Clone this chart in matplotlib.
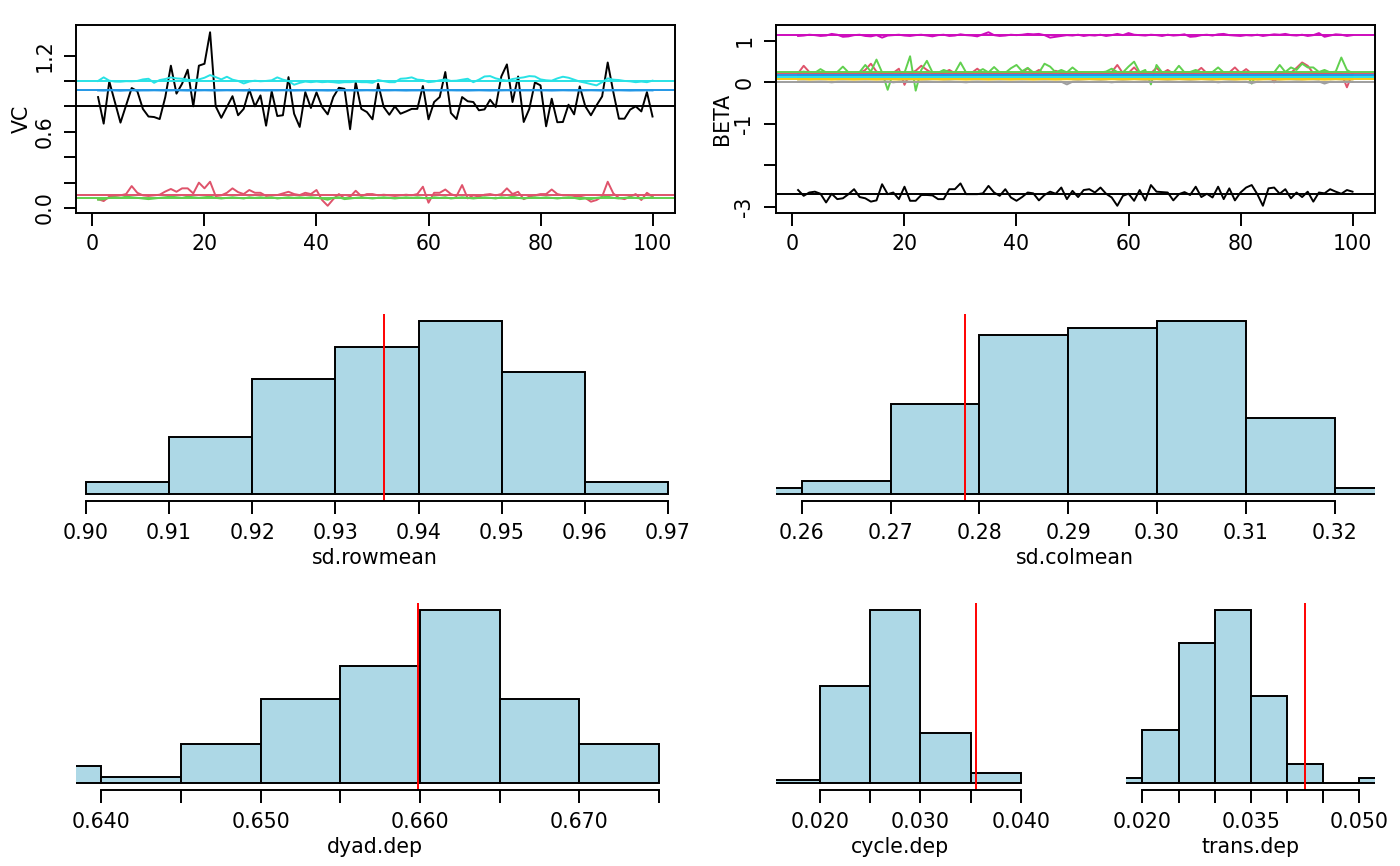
import numpy as np
import matplotlib
matplotlib.use("Agg")
import matplotlib.pyplot as plt

plt.rcParams['font.family'] = ['DejaVu Sans']
plt.rcParams['font.size'] = 14.8

# ---------------- data ----------------
iterations = list(range(1, 101))

vc_black = [0.873, 0.664, 0.996, 0.834, 0.672, 0.808, 0.944, 0.92, 0.78, 0.72,
            0.716, 0.70, 0.873, 1.12, 0.90, 0.978, 1.088, 0.80, 1.12, 1.135,
            1.383, 0.80, 0.71, 0.795, 0.88, 0.73, 0.78, 0.933, 0.80, 0.886,
            0.648, 0.918, 0.724, 0.73, 1.03, 0.742, 0.638, 0.912, 0.787, 0.91,
            0.795, 0.737, 0.873, 0.946, 0.938, 0.62, 0.99, 0.78, 0.755, 0.698,
            0.978, 0.795, 0.734, 0.80, 0.742, 0.76, 0.78, 0.78, 0.96, 0.698,
            0.834, 0.873, 1.07, 0.748, 0.70, 0.873, 0.84, 0.834, 0.769, 0.776,
            0.852, 0.795, 1.035, 1.13, 0.834, 1.035, 0.677, 0.78, 0.988, 0.965,
            0.643, 0.86, 0.675, 0.677, 0.813, 0.737, 0.957, 0.80, 0.73, 0.808,
            0.878, 1.145, 0.912, 0.703, 0.703, 0.774, 0.80, 0.76, 0.912, 0.72]

vc_red = [0.07, 0.055, 0.09, 0.095, 0.10, 0.11, 0.173, 0.12, 0.10, 0.095,
          0.10, 0.105, 0.13, 0.15, 0.128, 0.155, 0.155, 0.115, 0.20, 0.155,
          0.207, 0.094, 0.10, 0.12, 0.155, 0.125, 0.11, 0.142, 0.12, 0.12,
          0.095, 0.10, 0.102, 0.115, 0.128, 0.11, 0.102, 0.12, 0.11, 0.142,
          0.063, 0.018, 0.07, 0.11, 0.076, 0.089, 0.136, 0.094, 0.11, 0.11,
          0.10, 0.105, 0.10, 0.095, 0.10, 0.105, 0.10, 0.11, 0.168, 0.042,
          0.12, 0.12, 0.146, 0.11, 0.094, 0.181, 0.076, 0.10, 0.09, 0.105,
          0.11, 0.10, 0.11, 0.155, 0.11, 0.128, 0.07, 0.09, 0.10, 0.11,
          0.11, 0.146, 0.11, 0.10, 0.102, 0.095, 0.09, 0.08, 0.05, 0.063,
          0.09, 0.207, 0.115, 0.08, 0.07, 0.09, 0.11, 0.063, 0.12, 0.09]

vc_green = [0.065, 0.07, 0.08, 0.085, 0.08, 0.09, 0.085, 0.08, 0.075, 0.07,
            0.075, 0.08, 0.085, 0.09, 0.085, 0.08, 0.09, 0.085, 0.08, 0.085,
            0.09, 0.08, 0.075, 0.08, 0.085, 0.08, 0.075, 0.085, 0.08, 0.085,
            0.08, 0.085, 0.075, 0.08, 0.085, 0.08, 0.085, 0.08, 0.085, 0.08,
            0.075, 0.065, 0.08, 0.085, 0.07, 0.075, 0.08, 0.085, 0.08, 0.075,
            0.08, 0.085, 0.08, 0.075, 0.08, 0.085, 0.08, 0.085, 0.08, 0.075,
            0.085, 0.08, 0.085, 0.075, 0.08, 0.085, 0.08, 0.075, 0.08, 0.085,
            0.08, 0.075, 0.085, 0.08, 0.09, 0.08, 0.075, 0.08, 0.085, 0.08,
            0.085, 0.08, 0.075, 0.08, 0.085, 0.08, 0.07, 0.075, 0.07, 0.08,
            0.085, 0.09, 0.08, 0.075, 0.08, 0.085, 0.08, 0.075, 0.08, 0.085]

vc_blue = [0.925, 0.924, 0.926, 0.925, 0.923, 0.925, 0.926, 0.924, 0.925, 0.925,
           0.926, 0.925, 0.924, 0.925, 0.926, 0.925, 0.924, 0.925, 0.925, 0.926,
           0.925, 0.924, 0.925, 0.926, 0.925, 0.925, 0.924, 0.925, 0.926, 0.925,
           0.924, 0.925, 0.925, 0.926, 0.925, 0.924, 0.925, 0.925, 0.926, 0.925,
           0.925, 0.924, 0.925, 0.926, 0.925, 0.925, 0.924, 0.925, 0.926, 0.925,
           0.924, 0.925, 0.925, 0.926, 0.925, 0.924, 0.925, 0.925, 0.926, 0.925,
           0.925, 0.924, 0.925, 0.926, 0.925, 0.925, 0.924, 0.925, 0.926, 0.925,
           0.924, 0.925, 0.925, 0.926, 0.925, 0.924, 0.925, 0.925, 0.926, 0.925,
           0.925, 0.924, 0.925, 0.926, 0.925, 0.925, 0.924, 0.925, 0.926, 0.925,
           0.924, 0.925, 0.925, 0.926, 0.925, 0.924, 0.925, 0.925, 0.926, 0.925]

vc_cyan = [1.0, 1.028, 1.002, 0.995, 0.994, 0.998, 0.997, 1.0, 1.012, 1.017,
           0.985, 1.007, 1.015, 1.028, 1.02, 1.017, 1.01, 1.007, 1.012, 1.025,
           1.046, 1.03, 1.012, 1.033, 1.01, 1.0, 0.98, 0.995, 1.002, 0.997,
           1.0, 1.005, 1.028, 1.01, 1.0, 0.97, 0.985, 0.995, 0.99, 0.995,
           0.99, 0.993, 0.99, 0.985, 0.99, 0.99, 0.995, 0.99, 0.99, 0.985,
           1.007, 0.998, 0.99, 0.99, 1.017, 1.02, 1.028, 1.01, 1.007, 0.99,
           0.995, 1.005, 1.012, 1.0, 1.002, 1.01, 1.017, 0.99, 1.01, 1.035,
           1.038, 1.02, 1.01, 1.002, 1.015, 1.022, 1.028, 1.038, 1.035, 1.012,
           1.005, 1.002, 1.02, 1.033, 1.025, 1.01, 0.995, 0.986, 0.975, 0.965,
           0.99, 1.02, 1.01, 1.007, 1.0, 0.997, 0.99, 0.995, 0.99, 1.002]

beta_black = [-2.60, -2.74, -2.66, -2.64, -2.69, -2.90, -2.69, -2.82, -2.80, -2.70,
              -2.58, -2.77, -2.80, -2.88, -2.85, -2.46, -2.70, -2.66, -2.82, -2.52,
              -2.86, -2.86, -2.72, -2.72, -2.73, -2.82, -2.82, -2.58, -2.58, -2.44,
              -2.70, -2.70, -2.70, -2.68, -2.50, -2.66, -2.74, -2.58, -2.78, -2.86,
              -2.77, -2.66, -2.68, -2.85, -2.72, -2.64, -2.69, -2.54, -2.82, -2.62,
              -2.77, -2.60, -2.58, -2.66, -2.54, -2.69, -2.78, -2.98, -2.74, -2.69,
              -2.86, -2.60, -2.85, -2.48, -2.64, -2.65, -2.66, -2.85, -2.70, -2.65,
              -2.72, -2.52, -2.77, -2.69, -2.78, -2.52, -2.82, -2.56, -2.85, -2.66,
              -2.54, -2.48, -2.70, -2.98, -2.56, -2.54, -2.69, -2.58, -2.80, -2.66,
              -2.77, -2.64, -2.88, -2.66, -2.68, -2.58, -2.64, -2.69, -2.60, -2.64]

beta_red = [0.22, 0.40, 0.25, 0.21, 0.23, 0.22, 0.21, 0.24, 0.22, 0.21,
            0.22, 0.23, 0.30, 0.45, 0.26, 0.22, 0.21, 0.23, 0.33, -0.06,
            0.22, 0.28, 0.40, 0.30, 0.22, 0.21, 0.23, 0.30, 0.22, 0.24,
            0.21, 0.23, 0.33, 0.22, 0.21, 0.23, 0.22, 0.21, 0.24, 0.22,
            0.23, 0.34, 0.22, 0.30, 0.21, 0.22, 0.28, 0.22, 0.20, 0.22,
            0.23, 0.21, 0.22, 0.24, 0.22, 0.21, 0.25, 0.42, 0.22, 0.23,
            0.36, 0.22, 0.21, 0.22, 0.35, 0.22, 0.30, 0.21, 0.23, 0.22,
            0.21, 0.24, 0.35, 0.22, 0.21, 0.23, 0.22, 0.24, 0.36, 0.22,
            0.32, 0.21, 0.23, 0.22, 0.21, 0.00, 0.22, 0.24, 0.23, 0.35,
            0.48, 0.40, 0.22, 0.21, 0.23, 0.22, 0.24, 0.22, -0.12, 0.22]

beta_green = [0.24, 0.26, 0.24, 0.23, 0.32, 0.24, 0.23, 0.25, 0.38, 0.24,
              0.23, 0.25, 0.42, 0.26, 0.55, 0.24, -0.18, 0.24, 0.25, 0.23,
              0.63, -0.20, 0.30, 0.52, 0.24, 0.23, 0.30, 0.25, 0.24, 0.48,
              0.24, 0.23, 0.25, 0.32, 0.24, 0.37, 0.24, 0.23, 0.34, 0.42,
              0.27, 0.35, 0.24, 0.23, 0.45, 0.38, 0.24, 0.30, 0.24, 0.36,
              0.25, 0.24, 0.23, 0.25, 0.24, 0.26, 0.33, 0.25, 0.24, 0.38,
              0.50, 0.24, 0.30, -0.05, 0.42, 0.24, 0.25, 0.23, 0.40, 0.24,
              0.25, 0.30, 0.24, 0.23, 0.25, 0.36, 0.24, 0.23, 0.25, 0.24,
              0.23, -0.03, 0.24, 0.25, 0.23, 0.24, 0.42, 0.25, 0.36, 0.30,
              0.45, 0.36, 0.36, 0.25, 0.30, 0.24, 0.26, 0.60, 0.30, 0.22]

beta_blue = [0.175, 0.18, 0.17, 0.175, 0.18, 0.175, 0.17, 0.175, 0.18, 0.175,
             0.17, 0.175, 0.18, 0.185, 0.175, 0.17, 0.175, 0.18, 0.175, 0.17,
             0.175, 0.18, 0.175, 0.17, 0.175, 0.18, 0.175, 0.17, 0.175, 0.18,
             0.175, 0.17, 0.175, 0.18, 0.175, 0.17, 0.175, 0.18, 0.185, 0.175,
             0.17, 0.175, 0.18, 0.175, 0.17, 0.175, 0.18, 0.175, 0.17, 0.175,
             0.18, 0.175, 0.17, 0.175, 0.18, 0.175, 0.17, 0.175, 0.18, 0.175,
             0.17, 0.175, 0.18, 0.175, 0.17, 0.175, 0.18, 0.185, 0.175, 0.17,
             0.175, 0.18, 0.175, 0.17, 0.175, 0.18, 0.175, 0.17, 0.175, 0.18,
             0.175, 0.17, 0.175, 0.18, 0.175, 0.17, 0.175, 0.18, 0.175, 0.17,
             0.175, 0.18, 0.175, 0.17, 0.175, 0.18, 0.175, 0.17, 0.175, 0.18]

beta_cyan = [0.125, 0.12, 0.13, 0.125, 0.12, 0.125, 0.13, 0.125, 0.12, 0.125,
             0.13, 0.125, 0.12, 0.125, 0.13, 0.125, 0.12, 0.125, 0.13, 0.125,
             0.12, 0.125, 0.13, 0.125, 0.12, 0.125, 0.13, 0.125, 0.12, 0.125,
             0.13, 0.125, 0.12, 0.125, 0.13, 0.125, 0.12, 0.125, 0.13, 0.125,
             0.12, 0.125, 0.13, 0.125, 0.12, 0.125, 0.13, 0.125, 0.12, 0.125,
             0.13, 0.125, 0.12, 0.125, 0.13, 0.125, 0.12, 0.125, 0.13, 0.125,
             0.12, 0.125, 0.13, 0.125, 0.12, 0.125, 0.13, 0.125, 0.12, 0.125,
             0.13, 0.125, 0.12, 0.125, 0.13, 0.125, 0.12, 0.125, 0.13, 0.125,
             0.12, 0.125, 0.13, 0.125, 0.12, 0.125, 0.13, 0.125, 0.12, 0.125,
             0.13, 0.125, 0.12, 0.125, 0.13, 0.125, 0.12, 0.125, 0.13, 0.125]

beta_magenta = [1.12, 1.13, 1.15, 1.14, 1.12, 1.13, 1.17, 1.15, 1.10, 1.11,
                1.14, 1.15, 1.12, 1.11, 1.14, 1.08, 1.13, 1.14, 1.15, 1.13,
                1.12, 1.14, 1.15, 1.13, 1.11, 1.14, 1.15, 1.12, 1.13, 1.16,
                1.14, 1.13, 1.11, 1.16, 1.21, 1.14, 1.12, 1.13, 1.15, 1.14,
                1.15, 1.17, 1.16, 1.17, 1.14, 1.08, 1.10, 1.12, 1.14, 1.13,
                1.15, 1.12, 1.14, 1.13, 1.15, 1.12, 1.14, 1.17, 1.14, 1.19,
                1.15, 1.14, 1.13, 1.15, 1.14, 1.12, 1.15, 1.13, 1.14, 1.16,
                1.10, 1.11, 1.14, 1.15, 1.13, 1.16, 1.17, 1.14, 1.13, 1.12,
                1.14, 1.13, 1.15, 1.12, 1.14, 1.16, 1.15, 1.17, 1.14, 1.13,
                1.15, 1.12, 1.14, 1.19, 1.10, 1.13, 1.16, 1.15, 1.12, 1.14]

beta_yellow = [0.07, 0.075, 0.065, 0.07, 0.075, 0.07, 0.065, 0.07, 0.075, 0.07,
               0.065, 0.07, 0.075, 0.07, 0.065, 0.07, 0.075, 0.07, 0.065, 0.07,
               0.075, 0.07, 0.065, 0.07, 0.075, 0.07, 0.065, 0.07, 0.075, 0.07,
               0.065, 0.07, 0.075, 0.07, 0.065, 0.07, 0.075, 0.07, 0.065, 0.07,
               0.075, 0.07, 0.065, 0.07, 0.075, 0.07, 0.065, 0.07, 0.075, 0.07,
               0.065, 0.07, 0.075, 0.07, 0.065, 0.07, 0.075, 0.07, 0.065, 0.07,
               0.075, 0.07, 0.065, 0.07, 0.075, 0.07, 0.065, 0.07, 0.075, 0.07,
               0.065, 0.07, 0.075, 0.07, 0.065, 0.07, 0.075, 0.07, 0.065, 0.07,
               0.075, 0.07, 0.065, 0.07, 0.075, 0.07, 0.065, 0.07, 0.075, 0.07,
               0.065, 0.07, 0.075, 0.07, 0.065, 0.07, 0.075, 0.07, 0.065, 0.07]

beta_gray = [0.015, 0.02, 0.01, 0.015, 0.02, 0.015, 0.0, 0.015, 0.02, 0.015,
             0.01, 0.015, 0.02, 0.015, 0.01, 0.015, 0.02, 0.0, 0.015, 0.02,
             0.015, 0.01, 0.015, 0.02, 0.015, 0.01, 0.015, 0.02, 0.015, 0.01,
             0.0, 0.015, 0.02, 0.015, 0.01, 0.015, 0.02, 0.015, 0.01, 0.015,
             0.02, 0.015, 0.01, 0.015, 0.02, 0.015, 0.01, 0.015, -0.05, 0.015,
             0.02, 0.015, 0.01, 0.015, 0.02, 0.015, 0.0, 0.015, 0.02, 0.015,
             0.01, 0.015, 0.02, 0.015, 0.01, 0.015, 0.02, 0.015, 0.01, 0.015,
             0.02, 0.015, 0.01, 0.015, 0.02, 0.0, 0.015, 0.02, 0.015, 0.01,
             0.015, -0.02, 0.015, 0.01, 0.015, 0.02, 0.015, 0.01, 0.015, 0.02,
             0.015, 0.01, 0.015, 0.02, -0.03, 0.015, 0.01, 0.015, 0.02, 0.015]

vc_series = [vc_black, vc_red, vc_green, vc_blue, vc_cyan]
beta_series = [beta_black, beta_red, beta_green, beta_blue, beta_cyan,
               beta_magenta, beta_yellow, beta_gray]

# goodness-of-fit histograms: bin breaks, counts, observed statistic
rowmean_breaks = [0.90, 0.91, 0.92, 0.93, 0.94, 0.95, 0.96, 0.97]
rowmean_counts = [2, 9, 18, 23, 27, 19, 2]
rowmean_obs = 0.9358

colmean_breaks = [0.25, 0.26, 0.27, 0.28, 0.29, 0.30, 0.31, 0.32, 0.33]
colmean_counts = [1, 2, 13, 23, 24, 25, 11, 1]
colmean_obs = 0.2784

dyad_breaks = [0.635, 0.640, 0.645, 0.650, 0.655, 0.660, 0.665, 0.670, 0.675]
dyad_counts = [3, 1, 7, 15, 21, 31, 15, 7]
dyad_obs = 0.6599

cycle_breaks = [0.015, 0.020, 0.025, 0.030, 0.035, 0.040]
cycle_counts = [1, 29, 52, 15, 3]
cycle_obs = 0.0355

trans_breaks = [0.015, 0.020, 0.025, 0.030, 0.035, 0.040, 0.045, 0.050, 0.055]
trans_counts = [1, 11, 29, 36, 18, 4, 0, 1]
trans_obs = 0.0426

R_COLS = ['black', '#DF536B', '#61D04F', '#2297E6', '#28E2E5',
          '#CD0BBC', '#F5C710', '#9E9E9E']

# ---------------- layout ----------------
W, H = 1400, 866
fig = plt.figure(figsize=(W / 100, H / 100), dpi=100)
LW = 1.4
TL = 9
PX = 0.72  # points per pixel


def add_ax(x0, x1, y0, y1):
    return fig.add_axes([x0 / W, 1 - y1 / H, (x1 - x0) / W, (y1 - y0) / H])


def rlim(lo, hi):
    d = (hi - lo) * 0.04
    return lo - d, hi + d


def trace_panel(ax, series, ylabel, yticks, ylabels):
    for k, s in enumerate(series):
        ax.plot(iterations, s, color=R_COLS[k], lw=LW)
    for k, s in enumerate(series):
        ax.axhline(np.median(s), color=R_COLS[k], lw=LW)
    allv = np.concatenate([np.asarray(s) for s in series])
    ax.set_ylim(*rlim(allv.min(), allv.max()))
    ax.set_xlim(*rlim(1, 100))
    ax.set_xticks([0, 20, 40, 60, 80, 100])
    ax.set_yticks(yticks)
    ax.set_yticklabels(ylabels, rotation=90, va='center')
    ax.tick_params(direction='out', length=TL, width=LW, pad=6.5)
    for sp in ax.spines.values():
        sp.set_linewidth(LW)
    ax.annotate(ylabel, xy=(0, 0.5), xycoords='axes fraction',
                xytext=(-54 * PX, 0), textcoords='offset points',
                rotation=90, ha='center', va='center')


def hist_panel(ax, breaks, counts, obs, xlim, ticks, ticklabels, xlabel):
    b = np.asarray(breaks)
    ax.bar(b[:-1], counts, width=np.diff(b), align='edge', color='lightblue',
           edgecolor='black', linewidth=LW)
    m = max(counts)
    ax.set_ylim(-0.04 * m, 1.04 * m)
    ax.set_xlim(*xlim)
    ax.axvline(obs, color='red', lw=LW)
    for s in ['left', 'right', 'top']:
        ax.spines[s].set_visible(False)
    ax.spines['bottom'].set_linewidth(LW)
    ax.spines['bottom'].set_bounds(ticks[0], ticks[-1])
    ax.set_yticks([])
    ax.set_xticks(ticks)
    ax.set_xticklabels(ticklabels)
    ax.tick_params(direction='out', length=TL, width=LW, pad=6.5)
    ax.annotate(xlabel, xy=(0.5, 0), xycoords='axes fraction',
                xytext=(0, -57 * PX), textcoords='offset points',
                ha='center', va='center')


row_y = [(25.3, 212.7), (314.0, 501.4), (602.7, 790.0)]
colL = (75.9, 674.7)
colR = (775.9, 1374.7)

ax_vc = add_ax(colL[0], colL[1], *row_y[0])
trace_panel(ax_vc, vc_series, 'VC',
            [0.0, 0.2, 0.4, 0.6, 0.8, 1.0, 1.2],
            ['0.0', '', '', '0.6', '', '', '1.2'])

ax_beta = add_ax(colR[0], colR[1], *row_y[0])
trace_panel(ax_beta, beta_series, 'BETA',
            [-3, -2, -1, 0, 1], ['-3', '', '-1', '0', '1'])

ax_row = add_ax(colL[0], colL[1], *row_y[1])
hist_panel(ax_row, rowmean_breaks, rowmean_counts, rowmean_obs, (0.8988, 0.9708),
           [0.90, 0.91, 0.92, 0.93, 0.94, 0.95, 0.96, 0.97],
           ['0.90', '0.91', '0.92', '0.93', '0.94', '0.95', '0.96', '0.97'],
           'sd.rowmean')

ax_col = add_ax(colR[0], colR[1], *row_y[1])
hist_panel(ax_col, colmean_breaks, colmean_counts, colmean_obs, (0.2571, 0.3245),
           [0.26, 0.27, 0.28, 0.29, 0.30, 0.31, 0.32],
           ['0.26', '0.27', '0.28', '0.29', '0.30', '0.31', '0.32'],
           'sd.colmean')

ax_dyad = add_ax(colL[0], colL[1], *row_y[2])
hist_panel(ax_dyad, dyad_breaks, dyad_counts, dyad_obs, (0.6384, 0.6760),
           [0.640, 0.645, 0.650, 0.655, 0.660, 0.665, 0.670, 0.675],
           ['0.640', '', '0.650', '', '0.660', '', '0.670', ''],
           'dyad.dep')

ax_cyc = add_ax(775.9, 1024.7, *row_y[2])
hist_panel(ax_cyc, cycle_breaks, cycle_counts, cycle_obs, (0.0156, 0.0404),
           [0.020, 0.025, 0.030, 0.035, 0.040],
           ['0.020', '', '0.030', '', '0.040'],
           'cycle.dep')

ax_tr = add_ax(1125.9, 1374.7, *row_y[2])
hist_panel(ax_tr, trans_breaks, trans_counts, trans_obs, (0.0177, 0.0522),
           [0.020, 0.025, 0.030, 0.035, 0.040, 0.045, 0.050],
           ['0.020', '', '', '0.035', '', '', '0.050'],
           'trans.dep')

fig.savefig('out.png', dpi=100)
